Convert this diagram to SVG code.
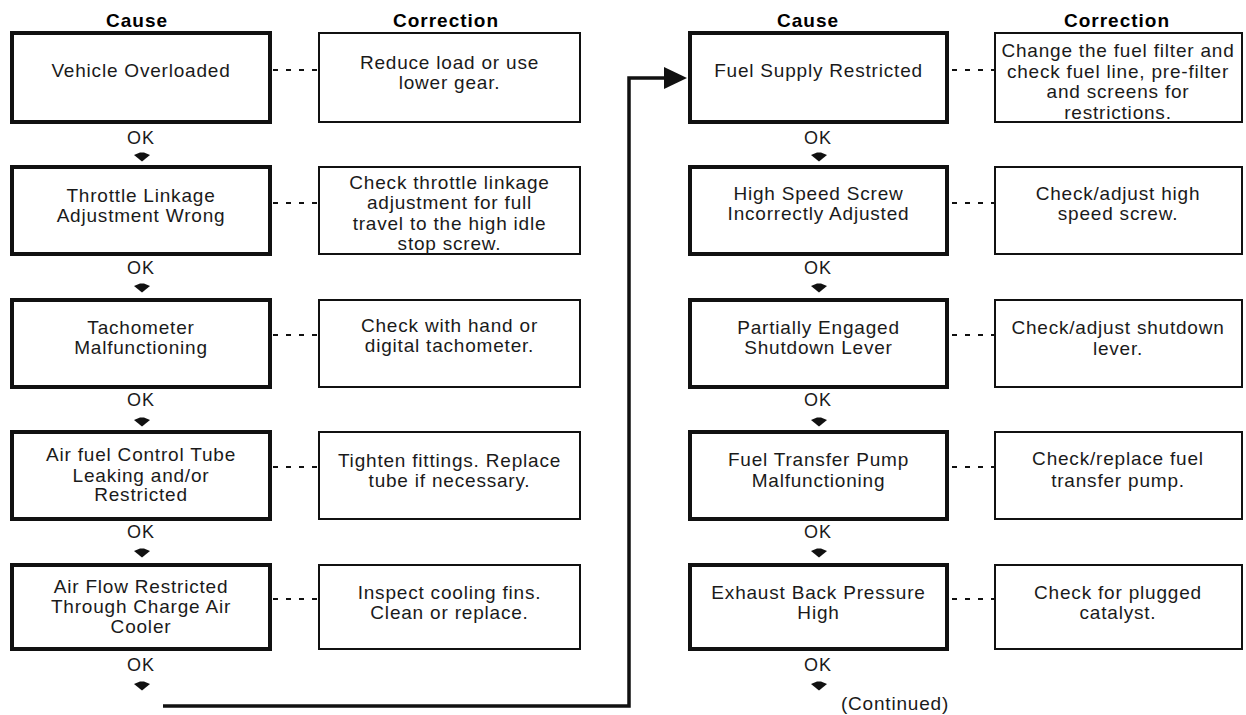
<svg xmlns="http://www.w3.org/2000/svg" width="1246" height="715" viewBox="0 0 1246 715">
<style>
  .bg { fill: #ffffff; }
  .cause rect { fill: #ffffff; stroke: #111111; stroke-width: 4; }
  .corr rect { fill: #ffffff; stroke: #111111; stroke-width: 2; }
  text { font-family: "Liberation Sans", Arial, sans-serif; font-size: 19px; letter-spacing: 0.8px; text-anchor: middle; fill: #1a1a1a; }
  .title { font-weight: bold; font-size: 19px; letter-spacing: 1px; fill: #000000; }
  .ok { font-size: 18px; letter-spacing: 1px; }
  .dot { stroke: #111111; stroke-width: 2; stroke-dasharray: 5 8; fill: none; }
  .flow { stroke: #111111; stroke-width: 3.5; fill: none; }
  .head { fill: #111111; }
</style>
<defs>
  <path id="ah" d="M-8,-2 L-2,-4.5 L2,-4.5 L8,-2 L0,4.5 Z" fill="#111111"/>
</defs>
<rect class="bg" x="0" y="0" width="1246" height="715"/>

<g id="titles">
  <text class="title" x="137" y="27">Cause</text>
  <text class="title" x="446" y="27">Correction</text>
  <text class="title" x="808" y="27">Cause</text>
  <text class="title" x="1117" y="27">Correction</text>
</g>

<g id="connectors">
  <line class="dot" x1="273" y1="70" x2="319" y2="70"/>
  <line class="dot" x1="273" y1="203" x2="319" y2="203"/>
  <line class="dot" x1="273" y1="335" x2="319" y2="335"/>
  <line class="dot" x1="273" y1="467" x2="319" y2="467"/>
  <line class="dot" x1="273" y1="599" x2="319" y2="599"/>
  <line class="dot" x1="952" y1="70" x2="995" y2="70"/>
  <line class="dot" x1="952" y1="203" x2="995" y2="203"/>
  <line class="dot" x1="952" y1="335" x2="995" y2="335"/>
  <line class="dot" x1="952" y1="467" x2="995" y2="467"/>
  <line class="dot" x1="952" y1="599" x2="995" y2="599"/>
  <use href="#ah" x="142" y="157"/>
  <use href="#ah" x="142" y="288"/>
  <use href="#ah" x="142" y="422"/>
  <use href="#ah" x="142" y="553"/>
  <use href="#ah" x="142" y="686"/>
  <use href="#ah" x="819" y="157"/>
  <use href="#ah" x="819" y="288"/>
  <use href="#ah" x="819" y="422"/>
  <use href="#ah" x="819" y="553"/>
  <use href="#ah" x="819" y="686"/>
  <path class="flow" d="M163,706 H629 V78 H668"/>
  <polygon class="head" points="664,67 687,78 664,89"/>
  <text class="ok" x="141" y="144">OK</text>
  <text class="ok" x="141" y="274">OK</text>
  <text class="ok" x="141" y="406">OK</text>
  <text class="ok" x="141" y="538">OK</text>
  <text class="ok" x="141" y="671">OK</text>
  <text class="ok" x="818" y="144">OK</text>
  <text class="ok" x="818" y="274">OK</text>
  <text class="ok" x="818" y="406">OK</text>
  <text class="ok" x="818" y="538">OK</text>
  <text class="ok" x="818" y="671">OK</text>
  <text x="895" y="710">(Continued)</text>
</g>

<g id="cause-l1" class="cause">
  <rect x="12" y="33" width="258" height="89"/>
  <text x="141" y="77">Vehicle Overloaded</text>
</g>
<g id="corr-l1" class="corr">
  <rect x="319" y="33" width="261" height="89"/>
  <text x="449.5" y="69">Reduce load or use</text>
  <text x="449.5" y="89">lower gear.</text>
</g>

<g id="cause-l2" class="cause">
  <rect x="12" y="167" width="258" height="87"/>
  <text x="141" y="202">Throttle Linkage</text>
  <text x="141" y="222">Adjustment Wrong</text>
</g>
<g id="corr-l2" class="corr">
  <rect x="319" y="167" width="261" height="87"/>
  <text x="449.5" y="189">Check throttle linkage</text>
  <text x="449.5" y="209">adjustment for full</text>
  <text x="449.5" y="230">travel to the high idle</text>
  <text x="449.5" y="250">stop screw.</text>
</g>

<g id="cause-l3" class="cause">
  <rect x="12" y="300" width="258" height="87"/>
  <text x="141" y="334">Tachometer</text>
  <text x="141" y="354">Malfunctioning</text>
</g>
<g id="corr-l3" class="corr">
  <rect x="319" y="300" width="261" height="87"/>
  <text x="449.5" y="332">Check with hand or</text>
  <text x="449.5" y="352">digital tachometer.</text>
</g>

<g id="cause-l4" class="cause">
  <rect x="12" y="432" width="258" height="87"/>
  <text x="141" y="461">Air fuel Control Tube</text>
  <text x="141" y="482">Leaking and/or</text>
  <text x="141" y="501">Restricted</text>
</g>
<g id="corr-l4" class="corr">
  <rect x="319" y="432" width="261" height="87"/>
  <text x="449.5" y="467">Tighten fittings. Replace</text>
  <text x="449.5" y="487">tube if necessary.</text>
</g>

<g id="cause-l5" class="cause">
  <rect x="12" y="565" width="258" height="84"/>
  <text x="141" y="593">Air Flow Restricted</text>
  <text x="141" y="613">Through Charge Air</text>
  <text x="141" y="633">Cooler</text>
</g>
<g id="corr-l5" class="corr">
  <rect x="319" y="565" width="261" height="84"/>
  <text x="449.5" y="599">Inspect cooling fins.</text>
  <text x="449.5" y="619">Clean or replace.</text>
</g>

<g id="cause-r1" class="cause">
  <rect x="690" y="33" width="257" height="89"/>
  <text x="818.5" y="77">Fuel Supply Restricted</text>
</g>
<g id="corr-r1" class="corr">
  <rect x="995" y="33" width="247" height="89"/>
  <text x="1118" y="57">Change the fuel filter and</text>
  <text x="1118" y="78">check fuel line, pre-filter</text>
  <text x="1118" y="98">and screens for</text>
  <text x="1118" y="119">restrictions.</text>
</g>

<g id="cause-r2" class="cause">
  <rect x="690" y="167" width="257" height="87"/>
  <text x="818.5" y="200">High Speed Screw</text>
  <text x="818.5" y="220">Incorrectly Adjusted</text>
</g>
<g id="corr-r2" class="corr">
  <rect x="995" y="167" width="247" height="87"/>
  <text x="1118" y="200">Check/adjust high</text>
  <text x="1118" y="220">speed screw.</text>
</g>

<g id="cause-r3" class="cause">
  <rect x="690" y="300" width="257" height="87"/>
  <text x="818.5" y="334">Partially Engaged</text>
  <text x="818.5" y="354">Shutdown Lever</text>
</g>
<g id="corr-r3" class="corr">
  <rect x="995" y="300" width="247" height="87"/>
  <text x="1118" y="334">Check/adjust shutdown</text>
  <text x="1118" y="355">lever.</text>
</g>

<g id="cause-r4" class="cause">
  <rect x="690" y="432" width="257" height="87"/>
  <text x="818.5" y="466">Fuel Transfer Pump</text>
  <text x="818.5" y="487">Malfunctioning</text>
</g>
<g id="corr-r4" class="corr">
  <rect x="995" y="432" width="247" height="87"/>
  <text x="1118" y="465">Check/replace fuel</text>
  <text x="1118" y="487">transfer pump.</text>
</g>

<g id="cause-r5" class="cause">
  <rect x="690" y="565" width="257" height="84"/>
  <text x="818.5" y="599">Exhaust Back Pressure</text>
  <text x="818.5" y="619">High</text>
</g>
<g id="corr-r5" class="corr">
  <rect x="995" y="565" width="247" height="84"/>
  <text x="1118" y="599">Check for plugged</text>
  <text x="1118" y="619">catalyst.</text>
</g>
</svg>
